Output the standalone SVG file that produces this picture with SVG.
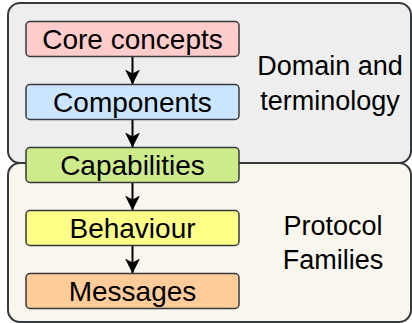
<svg xmlns="http://www.w3.org/2000/svg" width="412" height="323" viewBox="0 0 412 323">
<defs>
<style>
.cont{stroke:#36393d;stroke-width:2}
.box{stroke:#36393d;stroke-width:1.5}
text{font-family:"Liberation Sans",Arial,sans-serif;font-size:27px;fill:#000;text-anchor:middle}
.lbl{font-size:28px}
.conn{stroke:#000;stroke-width:2;fill:none}
</style>
<marker id="ah" viewBox="0 0 15 15" refX="15" refY="7.5" markerWidth="15" markerHeight="15" markerUnits="userSpaceOnUse" orient="auto">
<path d="M0,0 L15,7.5 L0,15 L4,7.5 Z" fill="#000"/>
</marker>
</defs>
<g id="domain">
<rect class="cont" x="8" y="3" width="403" height="160" rx="12" fill="#eeeeee"/>
<text x="330" y="75">Domain and</text>
<text x="330" y="110">terminology</text>
</g>
<g id="protocol">
<rect class="cont" x="8" y="163" width="403" height="159" rx="12" fill="#f9f7ed"/>
<text x="333" y="235">Protocol</text>
<text x="333" y="269">Families</text>
</g>
<g id="connectors">
<line class="conn" x1="132.5" y1="56.5" x2="132.5" y2="84.5" marker-end="url(#ah)"/>
<line class="conn" x1="132.5" y1="119.5" x2="132.5" y2="147.5" marker-end="url(#ah)"/>
<line class="conn" x1="132.5" y1="182.5" x2="132.5" y2="210.5" marker-end="url(#ah)"/>
<line class="conn" x1="132.5" y1="245.5" x2="132.5" y2="273.5" marker-end="url(#ah)"/>
</g>
<g id="core">
<rect class="box" x="26" y="21.5" width="213" height="35" rx="4" fill="#ffcccc"/>
<text class="lbl" x="132.5" y="48.5">Core concepts</text>
</g>
<g id="components">
<rect class="box" x="26" y="84.5" width="213" height="35" rx="4" fill="#cce5ff"/>
<text class="lbl" x="132.5" y="111.5">Components</text>
</g>
<g id="capabilities">
<rect class="box" x="26" y="147.5" width="213" height="35" rx="4" fill="#cdeb8b"/>
<text class="lbl" x="132.5" y="174.5">Capabilities</text>
</g>
<g id="behaviour">
<rect class="box" x="26" y="210.5" width="213" height="35" rx="4" fill="#ffff88"/>
<text class="lbl" x="132.5" y="237.5">Behaviour</text>
</g>
<g id="messages">
<rect class="box" x="26" y="273.5" width="213" height="35" rx="4" fill="#ffcc99"/>
<text class="lbl" x="132.5" y="300.5">Messages</text>
</g>
</svg>
